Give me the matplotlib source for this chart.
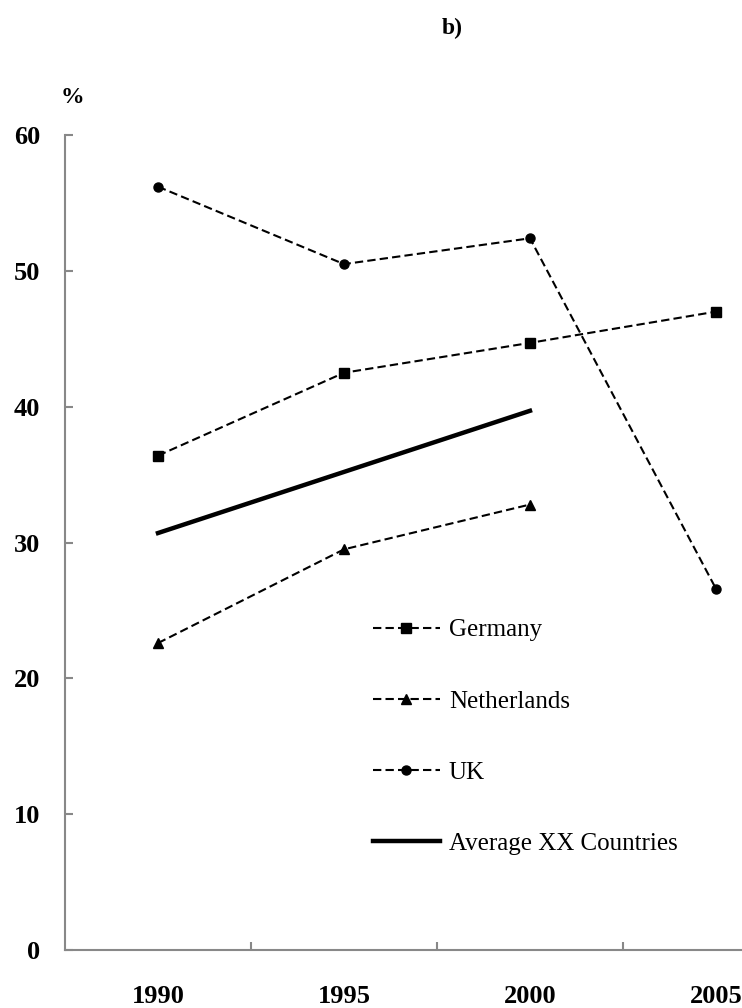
import matplotlib

matplotlib.use("Agg")
import matplotlib.pyplot as plt

years = ["1990", "1995", "2000", "2005"]
germany = [36.4, 42.5, 44.7, 47.0]
netherlands = [22.6, 29.5, 32.8]
uk = [56.2, 50.5, 52.4, 26.6]
average = [30.7, 35.2, 39.7]

plt.rcParams["font.family"] = ["Liberation Serif", "DejaVu Serif"]

fig = plt.figure(figsize=(7.42, 10.08), dpi=100)
ax = fig.add_axes([0.0876, 0.0575, 0.9124, 0.8085])

x = list(range(len(years)))
dash = (0, (4, 2))
ax.plot(x, germany, linestyle=dash, color="black", lw=1.5,
        marker="s", ms=6.5, label="Germany")
ax.plot(x[:3], netherlands, linestyle=dash, color="black", lw=1.5,
        marker="^", ms=6.5, label="Netherlands")
ax.plot(x, uk, linestyle=dash, color="black", lw=1.5,
        marker="o", ms=6.5, label="UK")
ax.plot(x[:3], average, linestyle="-", color="black", lw=3.2,
        label="Average XX Countries")

ax.set_xlim(-0.5, 3.14)
ax.set_ylim(0, 60)
ax.set_yticks(range(0, 61, 10))
ax.set_xticks(x)
ax.set_xticklabels(years, fontweight="bold", fontsize=19)
ax.set_xticks([0.5, 1.5, 2.5], minor=True)
ax.tick_params(axis="x", which="major", length=0, pad=25)
ax.tick_params(axis="x", which="minor", direction="in", length=6,
               color="#888888", width=1.5)
ax.tick_params(axis="y", direction="in", length=6, color="#888888",
               width=1.5, pad=18, labelsize=19)
for lab in ax.get_yticklabels():
    lab.set_fontweight("bold")

for side in ("top", "right"):
    ax.spines[side].set_visible(False)
for side in ("left", "bottom"):
    ax.spines[side].set_color("#888888")
    ax.spines[side].set_linewidth(1.5)

fig.text(0.098, 0.903, "%", fontsize=17, fontweight="bold",
         ha="center", va="center")
fig.text(0.61, 0.972, "b)", fontsize=17, fontweight="bold",
         ha="center", va="center")

ax.legend(loc="upper left", bbox_to_anchor=(0.421, 0.434), frameon=False,
          fontsize=18, handlelength=2.7, labelspacing=1.95,
          handletextpad=0.35)

fig.savefig("out.png", dpi=100)
